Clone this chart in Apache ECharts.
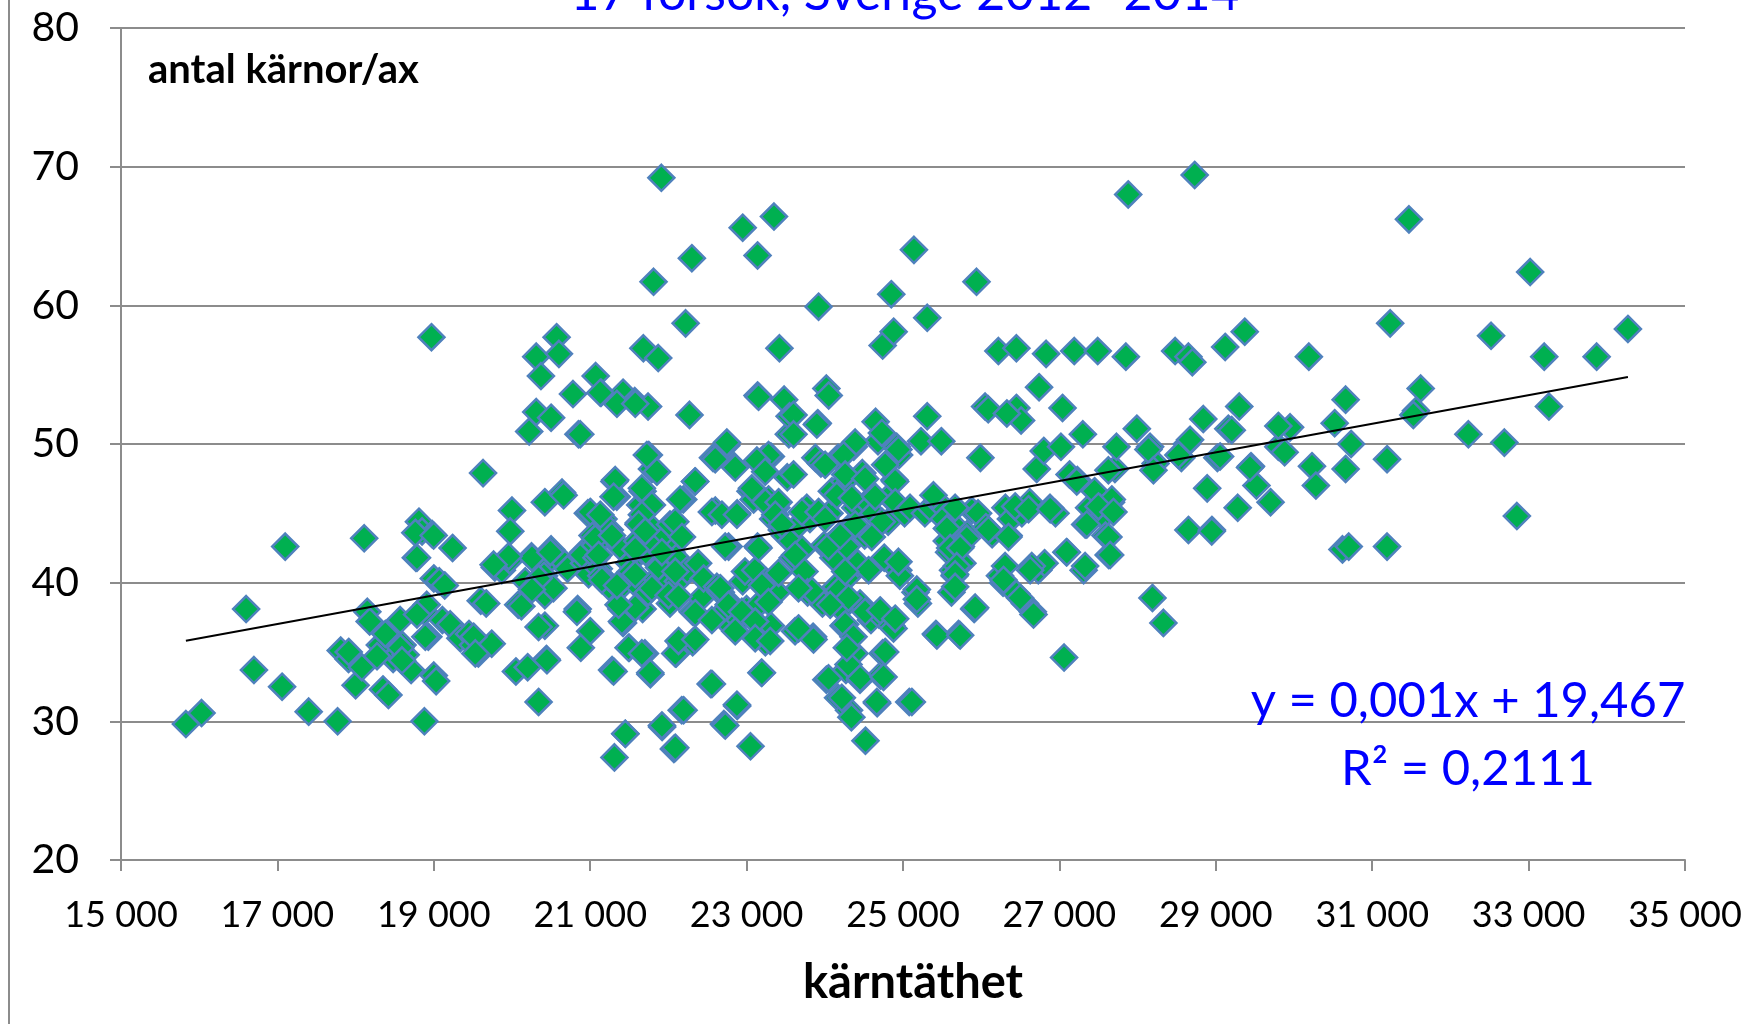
<!DOCTYPE html>
<html>
<head>
<meta charset="utf-8">
<script src="https://cdn.jsdelivr.net/npm/echarts@6/dist/echarts.min.js"></script>
<style>
html,body{margin:0;padding:0;background:#fff;}
#chart{width:1751px;height:1024px;}
</style>
</head>
<body>
<div id="chart"></div>
<script>
// ---- data (kärntäthet, antal kärnor/ax) ----
const pts15to19 = [[15830,29.8],[16030,30.6],[16600,38.1],[16700,33.7],[17100,42.6],[17060,32.5],
[17400,30.7],[17770,30.0],[17810,35.1],[17910,34.5],[18000,32.6],[18110,43.2],[18150,37.9],[18180,37.2],[18080,33.9],[18310,35.5],[18380,36.3],[18350,32.3],[18420,31.9],[18480,34.5],[18570,37.3],[18600,35.5],[18640,34.8],[18710,33.7],[18770,41.8],[18810,44.4],[18850,43.7],[18880,37.9],[18910,38.4],[18880,30.0],[18930,36.1],[18970,57.7],[19000,40.3],[19000,33.3],[19030,32.9],[18980,43.5],
[18274,34.7],[18572,35.3],[18593,34.4],[18785,37.7],[18892,36.1],[18764,43.6],[18998,43.4],[18785,41.8],[17912,35.0]];

const pts19to21 = [[19070,40.1],[19140,39.8],[19110,37.3],[19210,37.0],[19240,42.5],[19340,36.0],[19450,36.3],[19500,35.5],[19570,34.9],[19630,47.9],[19600,38.7],[19670,38.5],[19740,35.6],[19780,41.1],[19870,40.9],[19970,41.6],[20000,45.2],[20050,33.6],[20080,38.4],[20120,38.3],[20170,40.1],[20200,33.9],[20220,50.9],[20250,41.9],[20280,39.7],[20310,56.3],[20310,52.3],[20340,31.4],[20370,54.9],[20400,41.2],[20410,40.5],[20420,39.1],[20420,36.9],[20440,34.5],[20420,45.8],[20500,51.9],[20500,42.4],[20530,39.6],[20570,57.7],[20600,56.5],[20640,46.5],[20670,41.4],[20710,41.0],[20780,53.6],[20850,50.7],[20840,38.1],[20880,35.3],[20910,42.2],[20920,41.4],[20970,45.0],[21000,36.5],
[19978,43.7],[20255,41.8],[19957,41.9],[19765,41.3],[19509,36.1],[19531,34.9],[20340,40.3],[20255,39.5],[20340,36.8],[20660,46.3],[20490,42.2],[20895,42.0],[20980,40.6],[20831,37.9],[20447,34.4]];

const pts21to23 = [[21070,54.9],[21030,43.4],[21060,42.7],[21080,41.8],[21110,41.0],[21140,40.5],[21170,44.6],[21140,53.7],[21210,40.1],[21240,39.7],[21250,43.8],[21280,33.7],[21310,47.3],[21340,46.2],[21310,27.4],[21340,53.1],[21380,39.6],[21380,42.6],[21400,38.1],[21420,37.1],[21420,53.7],[21450,29.1],[21500,35.3],[21500,41.4],[21520,40.8],[21550,40.1],[21570,53.1],[21600,43.0],[21620,44.3],[21640,45.6],[21670,46.6],[21670,38.1],[21680,56.9],[21700,34.9],[21710,42.2],[21740,39.3],[21740,52.7],[21750,49.2],[21770,33.4],[21780,44.0],[21790,48.2],[21810,61.7],[21820,42.8],[21850,40.3],[21870,56.2],[21880,41.1],[21910,69.2],[21920,29.6],[21950,39.7],[21980,43.4],[22020,44.2],[22020,38.5],[22040,42.2],[22070,28.0],[22100,34.9],[22100,41.8],[22120,40.1],[22170,30.8],[22170,35.5],[22190,46.0],[22220,58.7],[22240,40.9],[22270,52.1],[22300,63.4],[22310,35.7],[22310,37.9],[22340,47.3],[22380,41.4],[22420,38.9],[22450,40.3],[22540,32.7],[22570,49.0],[22600,45.2],[22620,39.7],[22670,39.3],[22710,29.8],[22740,49.9],[22740,38.1],[22770,42.6],[22790,38.5],[22810,36.8],[22840,48.4],[22880,31.1],[22880,45.0],[22910,37.3],[22950,65.6],[22950,40.1],[22980,40.8],[23000,38.1],
[21129,53.7],[21342,52.9],[21576,52.9],[20873,50.7],[21725,49.2],[21853,48.0],[21320,47.4],[21661,46.8],[22343,47.3],[22151,46.0],[21299,46.2],[21789,45.6],[21001,45.1],[21129,44.9],[21661,44.9],[22556,45.1],[22684,44.9],[22876,44.9],[22088,44.4],[21619,44.2],[21065,43.2],[21278,43.4],[21704,43.7],[22173,43.3],[21108,42.0],[21576,42.4],[21917,42.2],[22727,42.6],[22599,48.9],[22855,48.3],[22748,50.1],
[21449,29.1],[21917,29.7],[22088,28.1],[22194,30.8],[22727,29.7],[22876,31.2],[22556,32.7],[21299,33.6],[21768,33.5],[21491,35.3],[21661,34.9],[21406,37.2],[21576,38.2],[21363,38.4],[22088,34.9],[22130,35.8],[22343,35.9],[22343,37.8],[22556,37.3],[22663,39.6],[22769,38.4],[22940,37.9],[22855,36.5],[21150,40.2],[21342,39.8],[21789,39.6],[22002,39.1],[22130,39.0],[21576,40.6],[22088,40.8]];

const pts23to25 = [[23050,28.2],[23050,46.6],[23090,46.0],[23110,40.9],[23140,53.5],[23140,63.6],[23140,42.6],[23170,38.5],[23190,33.5],[23210,48.9],[23240,35.7],[23250,40.1],[23280,46.0],[23310,49.1],[23310,36.9],[23340,44.6],[23350,66.4],[23380,45.4],[23390,39.3],[23420,56.9],[23450,43.8],[23480,53.2],[23490,43.4],[23520,47.6],[23540,50.7],[23550,52.0],[23570,43.0],[23590,41.8],[23620,36.5],[23670,44.2],[23710,42.4],[23740,40.8],[23770,45.4],[23780,39.3],[23810,44.6],[23850,36.1],[23850,39.3],[23880,49.0],[23910,51.5],[23920,59.9],[23950,48.6],[23970,38.5],[23990,42.7],[24020,33.0],[24020,54.0],[24050,53.5],[24060,45.0],[24090,46.6],[24110,41.8],[24140,39.7],[24170,31.7],[24170,49.0],[24190,43.4],[24210,38.1],[24240,36.9],[24250,47.3],[24270,33.7],[24280,42.6],[24310,30.8],[24310,40.5],[24340,30.3],[24350,44.2],[24370,49.8],[24380,34.9],[24390,45.4],[24420,41.4],[24450,33.0],[24450,38.5],[24480,47.9],[24510,43.4],[24520,28.6],[24540,45.8],[24560,40.9],[24590,37.3],[24620,45.0],[24650,51.6],[24670,31.3],[24680,50.2],[24690,37.7],[24710,33.3],[24740,57.1],[24740,34.9],[24760,41.8],[24810,44.4],[24820,46.2],[24850,60.8],[24850,36.9],[24880,58.1],[24890,47.4],[24920,49.8],[24940,40.9],[24950,49.2],[24960,40.5],
[23153,53.4],[23600,52.1],[23898,51.4],[23600,50.7],[24730,50.8],[24942,49.6],[24388,50.1],[24240,49.2],[23281,49.2],[23132,48.8],[23238,48.0],[23600,47.8],[24005,48.5],[24260,47.8],[24516,47.5],[24772,48.5],[24900,47.3],[23068,46.8],[23238,45.8],[23409,45.8],[24154,46.3],[24346,46.1],[24644,46.2],[24900,45.8],[23366,44.9],[23707,45.1],[23920,45.1],[23451,44.2],[24005,44.6],[24388,44.2],[24730,44.4],[23153,42.5],[23621,42.0],[24047,42.6],[24197,43.4],[24601,43.3],[24942,41.5],
[23196,33.5],[23110,37.2],[23110,36.0],[23302,35.8],[23196,39.8],[23281,38.6],[23664,36.7],[23856,35.9],[24048,33.1],[24218,31.7],[24303,34.1],[24452,33.1],[24751,33.2],[24665,31.4],[24261,37.0],[24367,36.1],[24282,35.3],[24772,35.0],[24879,36.7],[24175,39.4],[24303,38.9],[24069,38.4],[24516,37.9],[24708,38.0],[24900,37.4],[23835,39.4],[23664,39.6],[23409,40.7],[24261,40.8]];

const pts25to27 = [[25020,45.0],[25080,31.4],[25090,45.4],[25140,64.0],[25160,39.3],[25190,38.5],[25230,50.2],[25280,45.0],[25310,59.1],[25310,52.0],[25350,45.4],[25420,36.3],[25450,45.8],[25490,50.2],[25520,44.6],[25560,43.0],[25590,42.2],[25620,39.3],[25640,40.9],[25660,40.5],[25680,44.0],[25710,36.3],[25740,42.6],[25760,41.4],[25820,43.5],[25880,45.2],[25910,38.1],[25940,61.7],[25960,45.0],[25990,49.0],[26050,52.7],[26060,44.0],[26090,52.5],[26140,43.5],[26220,56.7],[26240,40.5],[26280,40.0],[26310,45.4],[26350,43.4],[26380,44.6],[26450,52.6],[26450,56.9],[26450,39.2],[26510,51.7],[26520,45.0],[26560,38.5],[26620,45.8],[26660,37.9],[26710,48.2],[26740,54.1],[26730,40.9],[26800,49.5],[26810,41.4],[26830,56.5],[26880,45.4],[26950,45.0],[27040,52.6],[27020,49.8],
[25390,46.3],[25667,45.4],[26434,45.5],[26605,45.3],[26882,45.3],[25561,43.9],[26093,43.8],[26349,43.3],[25816,43.2],[25603,42.5],[25731,42.5],[25688,41.2],[26306,41.2],[26647,41.2],[26328,52.2],
[25177,39.5],[25177,38.8],[25667,40.6],[25667,39.7],[25923,38.2],[25433,36.2],[25731,36.2],[26285,40.2],[26498,38.9],[26669,37.7],[26626,40.9],[25113,31.4]];

const pts27to29 = [[27060,34.6],[27090,42.2],[27130,47.8],[27190,56.7],[27230,47.4],[27300,50.7],[27310,40.9],[27330,44.2],[27380,45.4],[27450,46.6],[27490,56.7],[27520,45.4],[27560,44.8],[27590,43.4],[27630,42.0],[27660,45.8],[27710,48.2],[27730,49.8],[27850,56.3],[27880,68.0],[27990,51.1],[28160,49.8],[28190,38.9],[28230,48.6],[28330,37.1],[28480,56.7],[28560,49.0],[28630,50.0],[28650,56.3],[28700,55.9],[28650,43.8],[28730,69.4],[28840,51.8],[28890,46.8],[28950,43.8],[29020,49.0],
[27222,47.3],[27627,48.1],[28139,49.6],[28203,48.1],[28522,49.2],[28671,50.3],[27670,46.0],[27499,45.5],[27691,45.1],[27350,44.2],[27627,43.3],[27095,42.2],[27649,42.0],[27329,41.2],[28948,43.7]];

const pts29to35 = [[29120,57.0],[29160,51.1],[29280,45.4],[29300,52.7],[29370,58.1],[29450,48.4],[29520,47.0],[29700,45.8],[29800,49.8],[29880,49.4],[29950,51.2],[30190,56.3],[30230,48.4],[30280,47.0],[30520,51.5],[30620,42.4],[30660,53.2],[30660,48.2],[30700,42.6],[30730,50.0],[31190,48.9],[31190,42.6],[31230,58.7],[31470,66.2],[31560,52.4],[31620,54.0],[32230,50.7],[32520,57.8],[32690,50.1],[32850,44.8],[33020,62.4],[33200,56.3],[33260,52.7],[33870,56.3],[34270,58.3],
[29204,51.0],[29800,51.3],[29055,49.1],[29438,48.3],[31526,52.1]];

// Trend line as printed by the source (y = a*x + b)
const TREND_SLOPE = 0.001032;
const TREND_INTERCEPT = 19.47;

const xTickMin = 15000, xTickMax = 35000, xTickStep = 2000;
const yTickMin = 20, yTickMax = 80, yTickStep = 10;

const titleText = '17 försök, Sverige 2012 -2014';
const yTitle = 'antal kärnor/ax';
const xTitle = 'kärntäthet';
const eqLine1 = 'y = 0,001x + 19,467';
const eqLine2 = 'R² = 0,2111';

// ---- build ----
const allPts = [].concat(pts15to19, pts19to21, pts21to23, pts23to25, pts25to27, pts27to29, pts29to35);
let minX = Infinity, maxX = -Infinity;
allPts.forEach(p => { if (p[0] < minX) minX = p[0]; if (p[0] > maxX) maxX = p[0]; });
const trendPts = [[minX, TREND_SLOPE*minX + TREND_INTERCEPT], [maxX, TREND_SLOPE*maxX + TREND_INTERCEPT]];

const FONT = 'Lato, "Open Sans", sans-serif';
const chart = echarts.init(document.getElementById('chart'), null, {renderer:'canvas'});
chart.setOption({
  animation: false,
  backgroundColor: '#ffffff',
  grid: { left: 121, right: 66, top: 28, bottom: 164, containLabel: false },
  xAxis: {
    type: 'value', min: xTickMin, max: xTickMax, interval: xTickStep,
    axisLine: { show: true, lineStyle: { color: '#8c8c8c', width: 2 } },
    axisTick: { show: true, length: 11, lineStyle: { color: '#8c8c8c', width: 2 } },
    splitLine: { show: false },
    axisLabel: { margin: 37, fontFamily: FONT, fontSize: 36, color: '#000',
      formatter: v => String(v).replace(/\B(?=(\d{3})+(?!\d))/g, ' ') },
    name: xTitle, nameLocation: 'middle', nameGap: 99,
    nameTextStyle: { fontFamily: FONT, fontSize: 47, fontWeight: 'bold', color: '#000', padding: [0,0,0,20] }
  },
  yAxis: {
    type: 'value', min: yTickMin, max: yTickMax, interval: yTickStep,
    axisLine: { show: true, lineStyle: { color: '#8c8c8c', width: 2 } },
    axisTick: { show: true, length: 11, lineStyle: { color: '#8c8c8c', width: 2 } },
    splitLine: { show: true, lineStyle: { color: '#8c8c8c', width: 2 } },
    axisLabel: { margin: 42, fontFamily: FONT, fontSize: 41, color: '#000' }
  },
  series: [
    { type: 'scatter', data: allPts, symbol: 'diamond', symbolSize: 26,
      itemStyle: { color: '#00B050', borderColor: '#4F81BD', borderWidth: 2.5, opacity: 1 }, z: 2 },
    { type: 'line', data: trendPts, symbol: 'none', silent: true,
      lineStyle: { color: '#000', width: 2 }, z: 3 }
  ],
  graphic: [
    { type: 'line', shape: { x1: 9, y1: 0, x2: 9, y2: 1024 }, style: { stroke: '#8c8c8c', lineWidth: 2 } },
    { type: 'text', x: 905, y: -6, style: { text: titleText, fontFamily: FONT, fontSize: 50, fill: '#0000FF', align: 'center', verticalAlign: 'middle' } },
    { type: 'text', x: 148, y: 70, style: { text: yTitle, fontFamily: FONT, fontSize: 40, fontWeight: 'bold', fill: '#000', align: 'left', verticalAlign: 'middle' }, z: 10 },
    { type: 'text', x: 1468, y: 701, style: { text: eqLine1, fontFamily: FONT, fontSize: 49, fill: '#0000FF', align: 'center', verticalAlign: 'middle' }, z: 10 },
    { type: 'text', x: 1468, y: 769, style: { text: eqLine2, fontFamily: FONT, fontSize: 49, fill: '#0000FF', align: 'center', verticalAlign: 'middle' }, z: 10 }
  ]
});
</script>
</body>
</html>
